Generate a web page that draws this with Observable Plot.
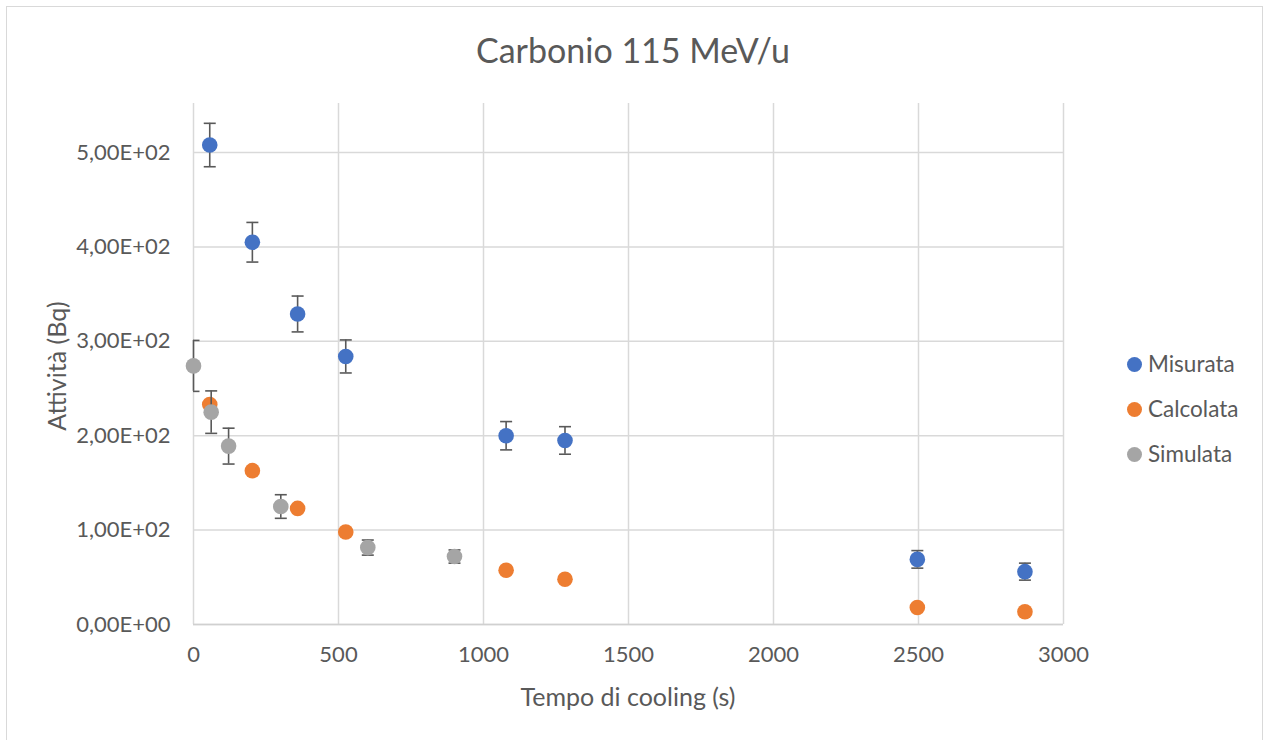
<!DOCTYPE html>
<html>
<head>
<meta charset="utf-8">
<script src="https://cdn.jsdelivr.net/npm/d3@7"></script>
<script src="https://cdn.jsdelivr.net/npm/@observablehq/plot@0.6"></script>
<style>
  body { margin: 0; background: #fff; }
  #wrap { position: relative; width: 1266px; height: 740px; overflow: hidden; font-family: Lato, "Open Sans", sans-serif; color: #595959; }
  #border { position: absolute; left: 6px; top: 6px; width: 1257px; height: 760px; border: 1.5px solid #d9d9d9; box-sizing: border-box; }
  #chart { position: absolute; left: 0; top: 0; }
  #title { position: absolute; left: 0; width: 1266px; top: 28px; text-align: center; font-size: 34px; line-height: 44px; }
  #xlabel { position: absolute; left: 193px; width: 870px; top: 681px; text-align: center; font-size: 25px; line-height: 30px; }
  #ylabel { position: absolute; left: 56px; top: 366px; transform: translate(-50%, -50%) rotate(-90deg); white-space: nowrap; font-size: 25px; line-height: 30px; }
  #legend { position: absolute; left: 1127px; top: 349px; font-size: 22.5px; }
  .row { height: 45px; display: flex; align-items: flex-start; line-height: 30px; }
  .sw { width: 15px; height: 15px; border-radius: 50%; margin-top: 8px; margin-right: 6px; flex: none; }
</style>
</head>
<body>
<div id="wrap">
  <div id="border"></div>
  <div id="chart"></div>
  <div id="title"></div>
  <div id="xlabel"></div>
  <div id="ylabel"></div>
  <div id="legend"></div>
</div>
<script>
const titleText = "Carbonio 115 MeV/u";
const xTitle = "Tempo di cooling (s)";
const yTitle = "Attività (Bq)";

const seriesNames = ["Misurata", "Calcolata", "Simulata"];
const seriesColors = ["#4472C4", "#ED7D31", "#A5A5A5"];

// Misurata
const xMis = [56, 203, 359, 525, 1078, 1281, 2496, 2867];
const yMis = [508, 405, 329, 284, 200, 195, 69, 56];
const eMis = [23, 21, 19, 17.5, 15, 14.6, 9.3, 9];
// Calcolata
const xCal = [56, 203, 359, 525, 1078, 1281, 2496, 2867];
const yCal = [233, 163, 123, 98, 57.5, 48, 18, 13.5];
// Simulata
const xSim = [0, 61, 121, 301, 601, 900];
const ySim = [274, 225, 189, 125, 81.5, 72];
const eSim = [27, 22.5, 19, 12.5, 8, 7];

const xTicks = [0, 500, 1000, 1500, 2000, 2500, 3000];
const xTickLabels = ["0", "500", "1000", "1500", "2000", "2500", "3000"];
const yTicks = [0, 100, 200, 300, 400, 500];
const yTickLabels = ["0,00E+00", "1,00E+02", "2,00E+02", "3,00E+02", "4,00E+02", "5,00E+02"];

const mis = xMis.map((x, i) => ({x, y: yMis[i], e: eMis[i]}));
const cal = xCal.map((x, i) => ({x, y: yCal[i]}));
const sim = xSim.map((x, i) => ({x, y: ySim[i], e: eSim[i]}));

const errColor = "#595959";
const cap = {
  draw(ctx, size) {
    const r = Math.sqrt(size / Math.PI);
    ctx.moveTo(-r, 0);
    ctx.lineTo(r, 0);
  }
};

function errorMarks(data) {
  return [
    Plot.ruleX(data, {x: "x", y1: d => d.y - d.e, y2: d => d.y + d.e, stroke: errColor, strokeWidth: 1.6}),
    Plot.dot(data, {x: "x", y: d => d.y + d.e, symbol: cap, r: 6, fill: "none", stroke: errColor, strokeWidth: 1.6, clip: true}),
    Plot.dot(data, {x: "x", y: d => d.y - d.e, symbol: cap, r: 6, fill: "none", stroke: errColor, strokeWidth: 1.6, clip: true})
  ];
}

const chart = Plot.plot({
  width: 1266,
  height: 740,
  marginLeft: 193,
  marginRight: 203,
  marginTop: 103,
  marginBottom: 116,
  style: {fontFamily: "Lato, 'Open Sans', sans-serif", fontSize: "22px", color: "#595959", background: "transparent"},
  x: {domain: [0, 3000]},
  y: {domain: [0, 552]},
  marks: [
    Plot.gridX(xTicks, {stroke: "#d9d9d9", strokeOpacity: 1, strokeWidth: 1.5}),
    Plot.gridY(yTicks, {stroke: "#d9d9d9", strokeOpacity: 1, strokeWidth: 1.5}),
    Plot.ruleY([0], {stroke: "#d0d0d0", strokeWidth: 1.5}),
    Plot.axisX(xTicks, {tickSize: 0, tickPadding: 22, label: null, fill: "#595959", tickFormat: d => xTickLabels[xTicks.indexOf(d)]}),
    Plot.axisY(yTicks, {tickSize: 0, tickPadding: 23, label: null, fill: "#595959", tickFormat: d => yTickLabels[yTicks.indexOf(d)]}),
    ...errorMarks(mis),
    Plot.dot(mis, {x: "x", y: "y", r: 7.8, fill: seriesColors[0], stroke: "none"}),
    Plot.dot(cal, {x: "x", y: "y", r: 7.8, fill: seriesColors[1], stroke: "none"}),
    ...errorMarks(sim),
    Plot.dot(sim, {x: "x", y: "y", r: 7.8, fill: seriesColors[2], stroke: "none"})
  ]
});
document.getElementById("chart").appendChild(chart);
document.getElementById("title").textContent = titleText;
document.getElementById("xlabel").textContent = xTitle;
document.getElementById("ylabel").textContent = yTitle;
const legend = document.getElementById("legend");
seriesNames.forEach((name, i) => {
  const row = document.createElement("div");
  row.className = "row";
  const sw = document.createElement("div");
  sw.className = "sw";
  sw.style.background = seriesColors[i];
  const t = document.createElement("span");
  t.textContent = name;
  row.appendChild(sw);
  row.appendChild(t);
  legend.appendChild(row);
});
</script>
</body>
</html>
